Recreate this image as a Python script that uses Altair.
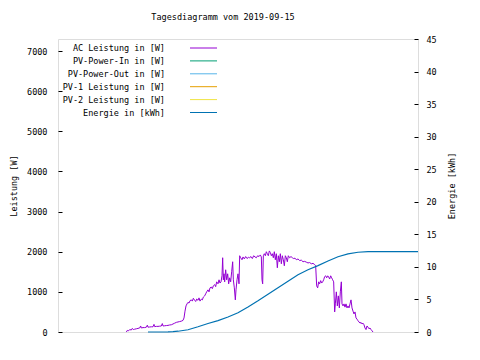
import altair as alt
import pandas as pd

# ---- data ----
power_times = [
    "07:25", "07:28", "07:32", "07:35", "07:40", "07:43", "07:46", "07:50", "07:55", "08:00",
    "08:05", "08:08", "08:10", "08:15", "08:20", "08:25", "08:28", "08:30", "08:35", "08:40",
    "08:45", "08:48", "08:50", "08:55", "09:00", "09:05", "09:10", "09:13", "09:15", "09:20",
    "09:25", "09:30", "09:35", "09:40", "09:45", "09:50", "09:55", "10:00", "10:05", "10:10",
    "10:15", "10:18", "10:21", "10:24", "10:27", "10:30", "10:33", "10:36", "10:40", "10:43",
    "10:46", "10:50", "10:53", "10:56", "11:00", "11:03", "11:06", "11:10", "11:13", "11:16",
    "11:20", "11:23", "11:26", "11:30", "11:33", "11:36", "11:40", "11:43", "11:46", "11:50",
    "11:53", "11:56", "12:00", "12:03", "12:06", "12:09", "12:12", "12:14", "12:16", "12:18",
    "12:20", "12:23", "12:26", "12:29", "12:32", "12:35", "12:38", "12:41", "12:44", "12:46",
    "12:49", "12:52", "12:54", "12:57", "13:00", "13:03", "13:05", "13:08", "13:12", "13:15",
    "13:19", "13:23", "13:27", "13:31", "13:35", "13:39", "13:43", "13:47", "13:51", "13:55",
    "13:59", "14:03", "14:07", "14:10", "14:12", "14:14", "14:16", "14:19", "14:22", "14:25",
    "14:28", "14:31", "14:34", "14:37", "14:40", "14:43", "14:46", "14:49", "14:52", "14:55",
    "14:58", "15:01", "15:04", "15:07", "15:10", "15:13", "15:16", "15:19", "15:22", "15:25",
    "15:28", "15:31", "15:35", "15:39", "15:43", "15:47", "15:51", "15:55", "16:00", "16:05",
    "16:10", "16:15", "16:20", "16:25", "16:30", "16:35", "16:40", "16:45", "16:50", "16:53",
    "16:56", "16:59", "17:02", "17:05", "17:08", "17:11", "17:14", "17:17", "17:20", "17:23",
    "17:26", "17:29", "17:32", "17:35", "17:38", "17:41", "17:44", "17:47", "17:50", "17:52",
    "17:55", "17:58", "18:01", "18:04", "18:07", "18:10", "18:12", "18:15", "18:18", "18:21",
    "18:24", "18:27", "18:30", "18:33", "18:36", "18:39", "18:42", "18:45", "18:48", "18:51",
    "18:54", "18:57", "19:00", "19:03", "19:06", "19:09", "19:12", "19:15", "19:18", "19:21",
    "19:24", "19:27", "19:30", "19:33", "19:36", "19:39", "19:42", "19:45",
]
power_w = [
    0, 40, 30, 60, 50, 90, 60, 70, 80, 90,
    100, 150, 100, 110, 110, 120, 170, 120, 125, 130,
    130, 190, 135, 140, 140, 145, 150, 210, 150, 155,
    160, 165, 175, 180, 200, 220, 240, 250, 260, 270,
    290, 350, 520, 650, 700, 740, 720, 780, 800, 770,
    840, 790, 760, 820, 790, 850, 770, 820, 800, 870,
    900, 950, 1000, 1050, 1000, 1100, 1120, 1080, 1150, 1180,
    1130, 1250, 1200, 1300, 1220, 1250, 1400, 1850, 1300, 1450,
    1250, 1550, 1300, 1450, 1200, 1350, 1250, 1500, 1750, 1300,
    1100, 800, 1050, 1300, 1450, 1200, 1900, 1850, 1800, 1870,
    1820, 1880, 1830, 1860, 1850, 1880, 1830, 1900, 1870, 1850,
    1900, 1880, 1920, 1870, 1300, 1200, 1900, 1950, 1900, 2000,
    1950, 1900, 2020, 1980, 1900, 1950, 1850, 2000, 1800, 1950,
    1600, 1900, 1750, 1950, 1700, 1900, 1800, 1650, 1900, 1850,
    1750, 1900, 1850, 1880, 1850, 1830, 1840, 1800, 1820, 1780,
    1790, 1750, 1760, 1740, 1720, 1730, 1700, 1710, 1680, 1650,
    1150, 1100, 1250, 1200, 1280, 1220, 1250, 1300, 1380, 1400,
    1350, 1400, 1370, 1320, 1400, 1350, 1300, 1250, 500, 700,
    1000, 650, 900, 600, 1000, 1250, 700, 650, 700, 620,
    700, 600, 650, 600, 700, 800, 600, 520, 450, 500,
    350, 320, 280, 250, 220, 240, 200, 220, 180, 100,
    60, 150, 120, 80, 100, 60, 30, 0,
]

energy_times = ["08:30", "09:00", "09:30", "09:45", "10:00", "10:30", "11:00", "11:30", "12:00",
                "12:30", "13:00", "13:30", "14:00", "14:30", "15:00", "15:30", "16:00", "16:30",
                "17:00", "17:30", "18:00", "18:30", "19:00", "19:30", "20:00", "22:00"]
energy_kwh = [0, 0, 0.02, 0.05, 0.12, 0.35, 0.8, 1.3, 1.75,
              2.3, 2.95, 3.85, 4.8, 5.8, 6.8, 7.8, 8.8, 9.55,
              10.2, 10.9, 11.55, 12.0, 12.25, 12.33, 12.35, 12.35]

series_names = ["AC Leistung in [W]", "PV-Power-In in [W]", "PV-Power-Out in [W]",
                "PV-1 Leistung in [W]", "PV-2 Leistung in [W]", "Energie in [kWh]"]
x_minor = list(range(4, 23))
left_ticks = [0, 1000, 2000, 3000, 4000, 5000, 6000, 7000]
right_ticks = [0, 5, 10, 15, 20, 25, 30, 35, 40, 45]
title_text = "Tagesdiagramm vom 2019-09-15"

# ---- styles ----
palette = ["#9400d3", "#009e73", "#56b4e9", "#e69f00", "#f0e442", "#0072b2"]
FONT = "DejaVu Sans Mono"
FS = 8.5

common_axis = dict(
    labelFont=FONT, labelFontSize=FS, labelColor="black",
    titleFont=FONT, titleFontSize=FS, titleFontWeight="normal", titleColor="black",
    tickColor="black", grid=False, domain=False, labelFlush=False, labelOverlap=False,
)


def to_h(s):
    h, m = s.split(":")
    return int(h) + int(m) / 60


power_df = pd.DataFrame({"h": [to_h(t) for t in power_times], "w": power_w})
energy_df = pd.DataFrame({"h": [to_h(t) for t in energy_times], "e": energy_kwh})
legend_df = pd.DataFrame({"name": series_names, "idx": list(range(len(series_names)))})

x_enc = alt.X(
    "h:Q",
    scale=alt.Scale(domain=[4, 22], nice=False, zero=False),
    axis=alt.Axis(
        values=x_minor,
        labelExpr="datum.value % 2 == 0 ? ((datum.value < 10 ? '0' : '') + datum.value + ':00') : ''",
        title=None, tickSize=3, offset=-3, labelPadding=4, **common_axis,
    ),
)

power = alt.Chart(power_df).mark_line(color=palette[0], strokeWidth=1).encode(
    x=x_enc,
    y=alt.Y(
        "w:Q",
        scale=alt.Scale(domain=[0, 7300], nice=False),
        axis=alt.Axis(values=left_ticks, format="d", title="Leistung [W]",
                      tickSize=4, offset=-4, labelPadding=11, titlePadding=8, **common_axis),
    ),
)

energy = alt.Chart(energy_df).mark_line(color=palette[5], strokeWidth=1.2).encode(
    x=alt.X("h:Q", scale=alt.Scale(domain=[4, 22], nice=False, zero=False), axis=None),
    y=alt.Y(
        "e:Q",
        scale=alt.Scale(domain=[0, 45], nice=False),
        axis=alt.Axis(orient="right", values=right_ticks, format="d", title="Energie [kWh]",
                      tickSize=4, offset=-4, labelPadding=8, titlePadding=20,
                      titleAngle=270, **common_axis),
    ),
)

legend_text = alt.Chart(legend_df).transform_calculate(
    py="9 + 12.9 * datum.idx"
).mark_text(align="right", baseline="middle", font=FONT, fontSize=FS, color="black").encode(
    x=alt.value(107),
    y=alt.Y("py:Q", scale=None, axis=None),
    text="name:N",
)

legend_lines = alt.Chart(legend_df).transform_calculate(
    py="9 + 12.9 * datum.idx"
).mark_rule(strokeWidth=1).encode(
    x=alt.value(132),
    x2=alt.value(159),
    y=alt.Y("py:Q", scale=None, axis=None),
    color=alt.Color("name:N", scale=alt.Scale(domain=series_names, range=palette), legend=None),
)

chart = alt.layer(power, energy, legend_text, legend_lines).resolve_scale(
    y="independent"
).properties(
    width=360,
    height=293,
    autosize=alt.AutoSizeParams(type="none"),
    padding={"left": 50, "top": 31, "right": 54, "bottom": 20},
    title=alt.TitleParams(title_text, font=FONT, fontSize=FS, fontWeight="normal",
                          color="black", offset=14, dx=-15),
).configure_view(
    stroke="black", strokeWidth=1
).configure(background="white")

chart.save("out.html", embed_options={"renderer": "svg", "actions": False})
